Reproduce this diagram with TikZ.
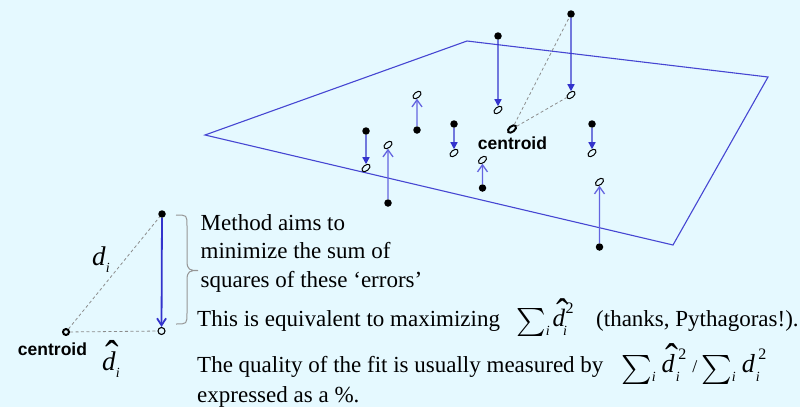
\documentclass[tikz,border=0pt]{standalone}
\usepackage{amsmath}
\usepackage{fontspec}
\usepackage{graphicx}
\setmainfont{Liberation Serif}
\setsansfont{Liberation Sans}
\usetikzlibrary{arrows.meta,shapes.geometric}
\definecolor{bg}{RGB}{229,249,255}
\definecolor{dblue}{RGB}{51,51,204}
\definecolor{ublue}{RGB}{100,100,224}
\definecolor{pblue}{RGB}{70,70,210}
\definecolor{brgray}{RGB}{150,150,150}
% #1 scale factor of a 10pt sum sign, #2 amount to lower it
\newcommand{\mysig}[2]{\raisebox{-#2}{\scalebox{#1}{\fontsize{10}{10}\selectfont$\textstyle\sum$}}}
\newcommand{\hatd}{\leavevmode\rlap{\hspace{0.14em}\scalebox{1.5}[1.6]{ˆ}}\textit{d}}
\newcommand{\subi}[1]{\raisebox{-#1}{\fontsize{14}{14}\selectfont\itshape i}}
\newcommand{\sqsub}[3]{\hspace{#3}\hspace{-2pt}\rlap{\raisebox{-#1}{\fontsize{14}{14}\selectfont\itshape i}}\hspace{2.5pt}\raisebox{#2}{\fontsize{16}{16}\selectfont 2}}
\begin{document}
\begin{tikzpicture}[x=1pt,y=-1pt,
  dot/.style={circle, fill=black, inner sep=0pt, minimum size=7.5pt},
  proj/.style={ellipse, draw=black, line width=1pt, inner sep=0pt, minimum width=9.5pt, minimum height=5.5pt, rotate=40},
  cen/.style={proj, line width=2pt},
  down/.style={draw=dblue, line width=1.3pt, -{Triangle[width=7pt,length=7pt]}},
  up/.style={draw=ublue, line width=1.3pt, -{Straight Barb[width=10pt,length=7pt]}},
  guide/.style={draw=gray!90, dash pattern=on 3pt off 2.5pt, line width=0.8pt},
  plane/.style={draw=pblue, line width=1.1pt, line join=miter},
  txt/.style={anchor=base west, inner sep=0pt, font=\fontsize{23}{28}\selectfont},
  lbl/.style={inner sep=0pt, font=\sffamily\bfseries\fontsize{17.5}{17.5}\selectfont},
  mathl/.style={anchor=base west, inner sep=0pt, font=\fontsize{27}{27}\selectfont}
]
\fill[bg] (0,0) rectangle (800,407);
\useasboundingbox (0,0) rectangle (800,407);
% plane
\coordinate (pa) at (205,135);
\coordinate (pb) at (467,41);
\coordinate (pc) at (768,77);
\coordinate (pd) at (673,245);
\draw[plane] (pa) -- (pb) -- (pc) -- (pd) -- cycle;
% points and projections
\node[dot] (d1) at (498,36) {};   \node[proj] (e1) at (498,110) {};
\node[dot] (d2) at (571,14) {};   \node[proj] (e2) at (571,95) {};
\node[dot] (d3) at (417,130) {};  \node[proj] (e3) at (417,95) {};
\node[dot] (d4) at (454,124) {};  \node[proj] (e4) at (454,153) {};
\node[dot] (d5) at (592,124) {};  \node[proj] (e5) at (592,153) {};
\node[dot] (d6) at (366,131) {};  \node[proj] (e6) at (366,168) {};
\node[dot] (d7) at (388,203) {};  \node[proj] (e7) at (388,145) {};
\node[dot] (d8) at (482.5,188) {};\node[proj] (e8) at (482.5,160) {};
\node[dot] (d9) at (599.5,247) {};\node[proj] (e9) at (599.5,182) {};
\node[cen] (c) at (512,129) {};
\node[lbl] (cl) at (512.5,143.5) {centroid};
\draw[guide] (c) -- (d2);
\draw[guide] (c) -- (e2);
\draw[down] (d1) -- (e1);
\draw[down] (d2) -- (e2);
\draw[down] (d4) -- (e4);
\draw[down] (d5) -- (e5);
\draw[down] (d6) -- (e6);
\draw[up] (d3) -- (e3);
\draw[up] (d7) -- (e7);
\draw[up] (d8) -- (e8);
\draw[up] (d9) -- (e9);
% left diagram
\node[dot] (L) at (162,214) {};
\node[circle, draw=black, line width=1.1pt, inner sep=0pt, minimum size=7pt] (Lc) at (161.5,331) {};
\node[circle, draw=black, line width=2pt, inner sep=0pt, minimum size=6pt] (C0) at (66,332) {};
\node[lbl] (C0l) at (52.5,349) {centroid};
\draw[guide] (C0) -- (L);
\draw[guide] (C0) -- (Lc);
\draw[draw=dblue, line width=1.8pt, -{Straight Barb[width=9pt,length=7pt]}] (L) -- (Lc);
\node[mathl] (di) at (92,265) {\textit{d}\subi{7pt}};
\node[mathl] (dhi) at (102,370) {\hatd\subi{7pt}};
% brace
\draw[draw=brgray, line width=1pt] (176,215) .. controls (187,215) .. (187,226) -- (187,261) .. controls (187,270) and (190,270.5) .. (198,270.5) .. controls (190,270.5) and (187,271) .. (187,280) -- (187,313) .. controls (187,324) .. (176,324);
% texts
\node[txt] (t1) at (200.5,230) {Method aims to};
\node[txt] (t2) at (200.5,258) {minimize the sum of};
\node[txt] (t3) at (200.5,287) {squares of these ‘errors’};
\node[txt] (t4) at (197,326) {This is equivalent to maximizing};
\node[txt] (f1) at (516,326) {\mysig{2.8}{3pt}\subi{9pt}\hspace{3pt}{\fontsize{25}{25}\selectfont\hatd}\sqsub{9pt}{13pt}{0pt}};
\node[txt] (t5) at (596,326) {(thanks, Pythagoras!).};
\node[txt] (t6) at (197,372) {The quality of the fit is usually measured by};
\node[txt] (f2) at (621,372) {\mysig{2.9}{5pt}\subi{9pt}\hspace{6pt}{\fontsize{26}{26}\selectfont\hatd}\sqsub{9pt}{13pt}{3pt}\hspace{6pt}{\fontsize{18}{18}\selectfont /}\hspace{4pt}\mysig{2.9}{5pt}\subi{9pt}\hspace{6pt}{\fontsize{26}{26}\selectfont\textit{d}}\sqsub{9pt}{13pt}{3pt}};
\node[txt] (t7) at (197,402) {expressed as a \%.};
\end{tikzpicture}
\end{document}
